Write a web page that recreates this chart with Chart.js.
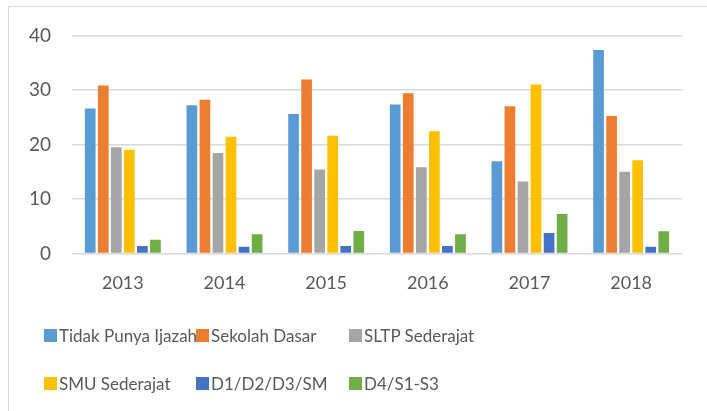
<!DOCTYPE html>
<html>
<head>
<meta charset="utf-8">
<script src="https://cdn.jsdelivr.net/npm/chart.js@4/dist/chart.umd.min.js"></script>
<style>
  html, body { margin: 0; padding: 0; background: #fff; }
  body { width: 707px; height: 411px; position: relative; overflow: hidden; font-family: Lato, "Open Sans", sans-serif; }
  #frame { position: absolute; left: 8px; top: 6px; width: 720px; height: 420px; border-left: 1.5px solid #d9d9d9; border-top: 1.5px solid #d9d9d9; box-sizing: border-box; }
  #wrap { position: absolute; left: 0; top: 3px; width: 707px; height: 314px; }
  #legend { position: absolute; left: 0; top: 0; width: 707px; height: 411px; pointer-events: none; }
  .li { position: absolute; display: flex; align-items: center; font-size: 17px; color: #595959; white-space: nowrap; }
  .sw { width: 13px; height: 13px; margin-right: 2px; }
</style>
</head>
<body>
<div id="frame"></div>
<div id="wrap"><canvas id="c" width="707" height="314"></canvas></div>
<div id="legend"></div>
<script>
const categories = ["2013", "2014", "2015", "2016", "2017", "2018"];
const seriesNames = ["Tidak Punya Ijazah", "Sekolah Dasar", "SLTP Sederajat", "SMU Sederajat", "D1/D2/D3/SM", "D4/S1-S3"];
const tidakPunyaIjazah = [26.6, 27.2, 25.6, 27.3, 16.9, 37.3];
const sekolahDasar     = [30.8, 28.2, 31.9, 29.4, 27.0, 25.2];
const sltpSederajat    = [19.5, 18.4, 15.4, 15.8, 13.2, 15.0];
const smuSederajat     = [19.0, 21.4, 21.6, 22.4, 31.0, 17.1];
const d1d2d3sm         = [1.35, 1.2, 1.35, 1.35, 3.75, 1.2];
const d4s1s3           = [2.5, 3.5, 4.1, 3.5, 7.25, 4.05];
const yTicks = [0, 10, 20, 30, 40];
const colors = ["#5B9BD5", "#ED7D31", "#A5A5A5", "#FFC000", "#4472C4", "#70AD47"];

const values = [tidakPunyaIjazah, sekolahDasar, sltpSederajat, smuSederajat, d1d2d3sm, d4s1s3];
const FONT = "Lato, 'Open Sans', sans-serif";

new Chart(document.getElementById("c"), {
  type: "bar",
  data: {
    labels: categories,
    datasets: seriesNames.map((n, i) => ({
      label: n,
      data: values[i],
      backgroundColor: colors[i],
      borderWidth: 0,
      barPercentage: 0.82,
      categoryPercentage: 0.77
    }))
  },
  options: {
    responsive: false,
    animation: false,
    devicePixelRatio: 1,
    layout: { padding: { left: 8, right: 25, top: 29.5, bottom: 4 } },
    plugins: { legend: { display: false }, tooltip: { enabled: false } },
    scales: {
      x: {
        grid: { display: false, drawTicks: false },
        border: { display: false },
        ticks: { color: "#595959", font: { family: FONT, size: 18 }, padding: 19 }
      },
      y: {
        min: 0, max: 40,
        afterBuildTicks: s => { s.ticks = yTicks.map(v => ({ value: v })); },
        afterFit: s => { s.width = 64; },
        grid: { color: "#d9d9d9", lineWidth: 1.5, drawTicks: false },
        border: { display: false },
        ticks: { color: "#595959", font: { family: FONT, size: 19 }, padding: 21 }
      }
    }
  }
});

const legend = document.getElementById("legend");
const colX = [44, 196, 349];
const rowY = [335, 383];
seriesNames.forEach((n, i) => {
  const d = document.createElement("div");
  d.className = "li";
  d.style.left = colX[i % 3] + "px";
  d.style.top = (rowY[Math.floor(i / 3)] - 12) + "px";
  d.style.height = "24px";
  const sw = document.createElement("span");
  sw.className = "sw";
  sw.style.background = colors[i];
  const t = document.createElement("span");
  t.textContent = n;
  d.appendChild(sw);
  d.appendChild(t);
  legend.appendChild(d);
});
</script>
</body>
</html>
